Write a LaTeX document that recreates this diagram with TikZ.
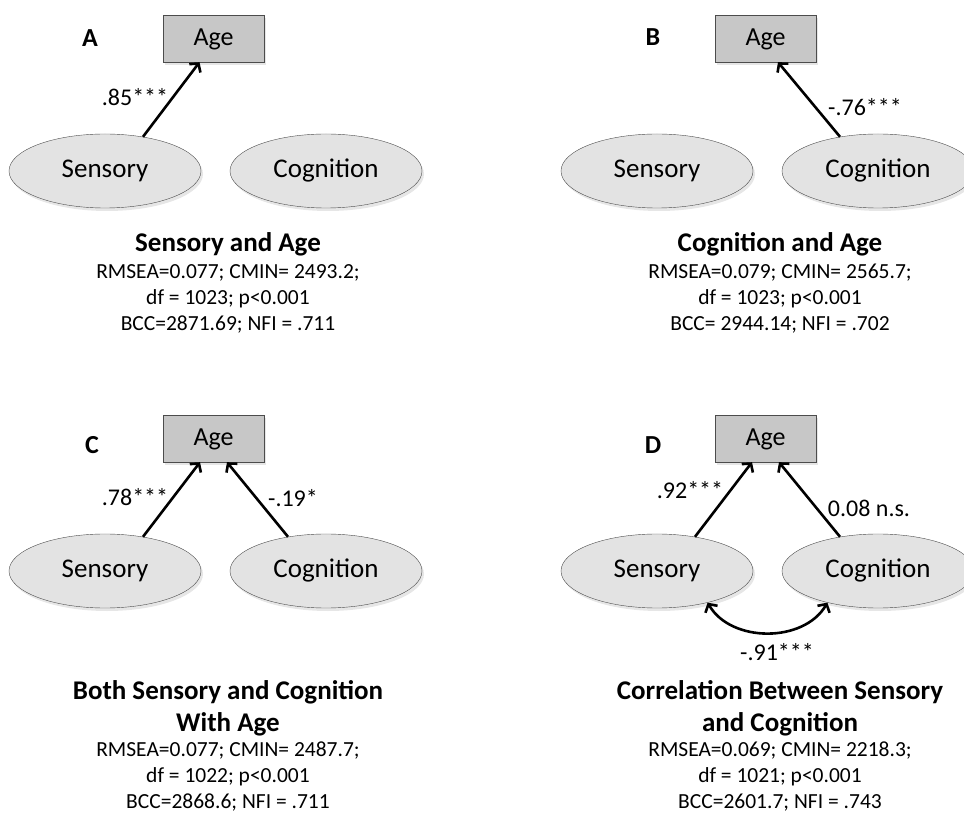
\documentclass[tikz,border=0pt]{standalone}
\usepackage{fontspec}
\setmainfont{Carlito}
\usetikzlibrary{positioning, shapes.geometric, arrows.meta, shadows}

\begin{document}
\begin{tikzpicture}[x=1pt, y=1pt, >={Straight Barb[length=6pt, width=14pt]}]
        \tikzset{
          agebox/.style={draw=black!70, fill=black!22, minimum width=101pt, minimum height=47pt, inner sep=0pt,
            text height=17pt, text depth=3pt,
            font=\fontsize{26}{30}\selectfont, drop shadow={shadow xshift=2pt, shadow yshift=-3pt, opacity=.2}},
          latent/.style={ellipse, draw=black!70, fill=black!11, minimum width=192pt, minimum height=74pt, inner sep=0pt,
            text height=18pt, text depth=4pt,
            font=\fontsize{27}{32}\selectfont, drop shadow={shadow xshift=2pt, shadow yshift=-3pt, opacity=.2}},
          effect/.style={->, line width=2.6pt},
          coef/.style={font=\fontsize{24}{28}\selectfont},
          panel/.style={font=\bfseries\fontsize{26}{30}\selectfont},
          heading/.style={anchor=base, align=center, font=\bfseries\fontsize{27}{32}\selectfont},
          fitstats/.style={anchor=base, align=center, font=\fontsize{21.5}{26}\selectfont}
        }
        \useasboundingbox (0,0) rectangle (964,812);
        \clip (0,0) rectangle (964,812);

        % Panel A
        \node[panel] (letA) at (90,774) {A};
        \node[agebox] (ageA) at (213.5,773.5) {Age};
        \node[latent] (sensA) at (105,641) {Sensory};
        \node[latent] (cogA) at (326,641) {Cognition};
        \draw[effect] (sensA.42) -- ([xshift=-14pt]ageA.south);
        \node[coef] (cfA) at (135,715) {.85***};
        \node[heading] (headA) at (228,560) {Sensory and Age};
        \node[fitstats] (fitA) at (228,481) {RMSEA=0.077; CMIN= 2493.2;\\df = 1023; p<0.001\\BCC=2871.69; NFI = .711};

        % Panel B
        \node[panel] (letB) at (653,775) {B};
        \node[agebox] (ageB) at (765.5,773.5) {Age};
        \node[latent] (sensB) at (657,641) {Sensory};
        \node[latent] (cogB) at (878,641) {Cognition};
        \draw[effect] (cogB.138) -- ([xshift=12.5pt]ageB.south);
        \node[coef] (cfB) at (865,705) {-.76***};
        \node[heading] (headB) at (780,560) {Cognition and Age};
        \node[fitstats] (fitB) at (780,481) {RMSEA=0.079; CMIN= 2565.7;\\df = 1023; p<0.001\\BCC= 2944.14; NFI = .702};

        % Panel C
        \node[panel] (letC) at (92,367) {C};
        \node[agebox] (ageC) at (213.5,373.5) {Age};
        \node[latent] (sensC) at (105,241) {Sensory};
        \node[latent] (cogC) at (326,241) {Cognition};
        \draw[effect] (sensC.42) -- ([xshift=-13.5pt]ageC.south);
        \draw[effect] (cogC.138) -- ([xshift=13.5pt]ageC.south);
        \node[coef] (cfCs) at (135,315) {.78***};
        \node[coef] (cfCc) at (293,314) {-.19*};
        \node[heading] (headC) at (228,81) {Both Sensory and Cognition\\With Age};
        \node[fitstats] (fitC) at (228,4) {RMSEA=0.077; CMIN= 2487.7;\\df = 1022; p<0.001\\BCC=2868.6; NFI = .711};

        % Panel D
        \node[panel] (letD) at (653,367) {D};
        \node[agebox] (ageD) at (765.5,373.5) {Age};
        \node[latent] (sensD) at (657,241) {Sensory};
        \node[latent] (cogD) at (878,241) {Cognition};
        \draw[effect] (sensD.42) -- ([xshift=-13.5pt]ageD.south);
        \draw[effect] (cogD.138) -- ([xshift=13.5pt]ageD.south);
        \draw[effect, <->] (sensD.-32) to[out=-60, in=-120] (cogD.-148); % correlation
        \node[coef] (cfDs) at (690,322) {.92***};
        \node[coef] (cfDc) at (869,304) {0.08 n.s.};
        \node[coef] (cfDr) at (777,160) {-.91***};
        \node[heading] (headD) at (780,81) {Correlation Between Sensory\\and Cognition};
        \node[fitstats] (fitD) at (780,4) {RMSEA=0.069; CMIN= 2218.3;\\df = 1021; p<0.001\\BCC=2601.7; NFI = .743};
\end{tikzpicture}
\end{document}
